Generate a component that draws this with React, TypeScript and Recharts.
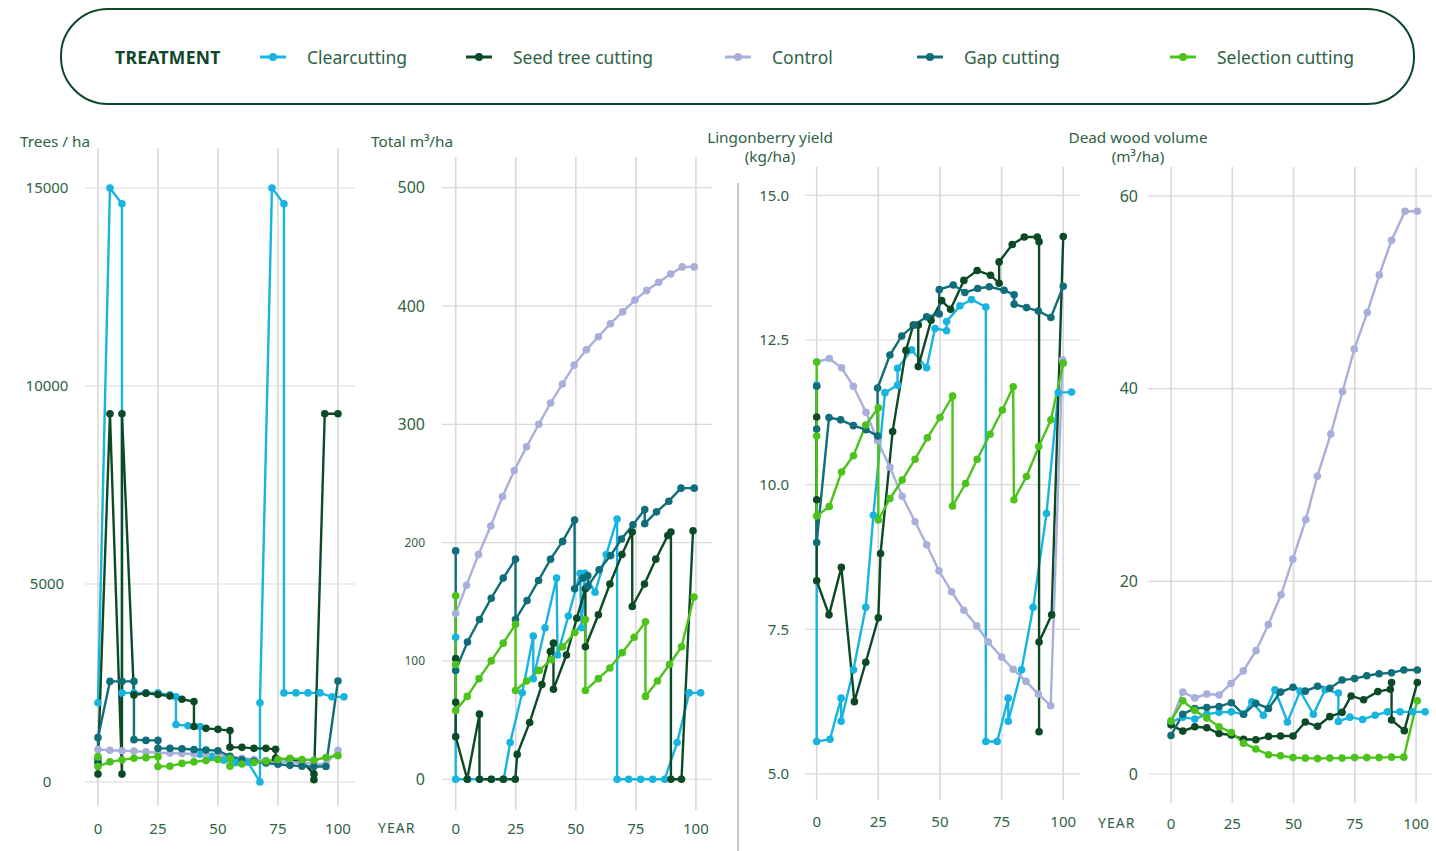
import React from "react";
import { LineChart, Line, XAxis, YAxis, ReferenceLine } from "recharts";

type Pt = [number, number];

// ---------- colours ----------
const C_CLEAR = "#17b4e0";
const C_SEED = "#0b4a25";
const C_CONTROL = "#a8afdb";
const C_GAP = "#0f6e79";
const C_SEL = "#4cc31a";
const TEXT = "#2f6244";
const GRID = "#d9d9d9";

// ---------- legend ----------
const seriesNames = ["Clearcutting", "Seed tree cutting", "Control", "Gap cutting", "Selection cutting"];
const seriesColors = [C_CLEAR, C_SEED, C_CONTROL, C_GAP, C_SEL];

// ---------- shared ticks ----------
const yearTicks = [0, 25, 50, 75, 100];

// ---------- Panel 1: Trees / ha ----------
const treesTicks = [0, 5000, 10000, 15000];
const treesClear: Pt[] = [[0,2000],[5,15000],[10,14600],[10,2250],[15,2250],[20,2250],[25,2250],[30,2200],[32.5,2150],[32.5,1450],[37.5,1420],[42.5,1400],[42.5,700],[47.5,650],[52.5,550],[57.5,500],[62.5,500],[67.5,0],[67.5,2000],[72.5,15000],[77.5,14600],[77.5,2250],[82.5,2250],[87.5,2250],[92.5,2250],[97.5,2150],[102.5,2150]];
const treesSeed: Pt[] = [[0,200],[0,500],[5,9300],[10,200],[10,9300],[15,2200],[20,2240],[25,2210],[30,2170],[35,2090],[40,2030],[40,1400],[45,1355],[50,1330],[55,1300],[55,875],[60,875],[65,850],[70,850],[74,825],[74,600],[80,560],[85,530],[90,200],[90,60],[94.5,9300],[100,9300]];
const treesControl: Pt[] = [[0,820],[5,800],[10,790],[15,780],[20,760],[25,740],[30,730],[35,720],[40,710],[45,700],[50,680],[55,640],[60,600],[65,570],[70,540],[75,520],[80,500],[85,480],[90,460],[95,450],[100,800]];
const treesGap: Pt[] = [[0,600],[0,1120],[5,2540],[10,2540],[15,2540],[15,1070],[20,1050],[25,1050],[25,850],[30,850],[35,840],[40,820],[45,810],[50,790],[55,650],[60,560],[65,520],[70,480],[75,450],[80,420],[85,400],[90,390],[95,390],[100,2550]];
const treesSel: Pt[] = [[0,640],[0,390],[5,510],[10,560],[15,600],[20,615],[25,640],[25,390],[30,400],[35,470],[40,510],[45,540],[50,570],[55,600],[55,400],[60,455],[65,490],[70,530],[75,570],[80,600],[85,570],[90,550],[95,620],[100,665]];

// ---------- Panel 2: Total m3/ha ----------
const volTicks = [0, 100, 200, 300, 400, 500];
const volClear: Pt[] = [[0,120],[0,0],[5,0],[10,0],[15,0],[20,0],[22.7,31],[27.7,73],[32.3,121],[32.3,85],[37.2,128],[42,170],[42.4,105],[46.9,138],[51.8,174],[52.4,128],[53.8,174],[58,158],[62.7,190],[67.2,220],[67.2,0],[72,0],[77,0],[82,0],[87,0],[92.2,31],[97.2,73],[102,73]];
const volSeed: Pt[] = [[0,102],[0,65],[0,36],[4.8,0],[9.9,55],[9.9,0],[14.8,0],[19.8,0],[24.8,0],[25.6,21],[30.8,48],[35.9,80],[39.4,108],[40.7,115],[40.7,76],[46.1,105],[50.4,136],[54,161],[54,112],[59.4,139],[64.2,165],[69.2,190],[73.5,209],[73.5,146],[78.6,165],[83.3,186],[88.3,206],[89.6,209],[89.6,0],[94,0],[98.8,210]];
const volControl: Pt[] = [[0,140],[4.5,164],[9.5,190],[14.6,214],[19.5,239],[24.4,261],[29.5,281],[34.6,300],[39.5,318],[44.4,334],[49.3,350],[54.4,363],[59.4,374],[64.4,385],[69.5,395],[74.6,405],[79.5,413],[84.5,420],[89.5,427],[94.3,433],[99.3,433]];
const volGap: Pt[] = [[0,193],[0,92],[4.9,116],[9.9,135],[14.8,153],[19.8,170],[24.9,186],[24.9,135],[29.7,151],[34.5,168],[39.5,186],[44.5,201],[49.5,219],[49.5,161],[53,170],[55,172],[55,163],[59.7,177],[64.5,189],[69,203],[73.8,215],[78.7,228],[78.7,216],[83.6,226],[88.7,235],[93.8,246],[99.3,246]];
const volSel: Pt[] = [[0,155],[0,97],[0,58],[4.8,70],[9.7,85],[14.8,100],[19.8,115],[24.9,131],[24.9,75],[29.5,83],[34.8,92],[39.8,101],[44.5,112],[49.6,124],[54,135],[54,75],[59.4,85],[64.2,94],[69.3,107],[74.3,120],[79,133],[79,70],[84,83],[89,97],[94,112],[99.2,154]];

// ---------- Panel 3: Lingonberry yield ----------
const lingTicks = [5, 7.5, 10, 12.5, 15];
const lingClear: Pt[] = [[0,11.72],[0,5.56],[5.4,5.6],[9.9,6.31],[9.9,5.91],[14.9,6.8],[19.9,7.88],[23,9.47],[27.7,11.59],[32.8,11.72],[32.8,12.01],[38.5,12.33],[44.6,12.02],[48,12.7],[52.7,12.66],[52.7,12.82],[58.1,13.09],[62.8,13.2],[68.6,13.07],[68.6,5.56],[73.2,5.56],[77.7,6.31],[77.7,5.91],[83.1,6.8],[87.8,7.88],[93.2,9.5],[98,11.59],[103.4,11.6]];
const lingSeed: Pt[] = [[0,11.17],[0,9.74],[0,8.34],[5,7.75],[10,8.57],[15.3,6.25],[19.9,6.93],[25,7.7],[25.9,8.81],[30.8,10.92],[36.2,12.32],[39.2,12.76],[41.2,12.76],[41.2,12.04],[46.4,12.84],[50.7,13.18],[54.3,13.03],[59.7,13.53],[65.1,13.7],[70.5,13.62],[74,13.48],[74,13.85],[79.3,14.15],[84.2,14.28],[89.5,14.28],[90.2,14.2],[90.2,5.73],[90.2,7.28],[95.3,7.75],[100,14.29]];
const lingControl: Pt[] = [[0,12.12],[5.1,12.18],[10.1,12.02],[14.9,11.7],[20,11.25],[24.7,10.76],[29.7,10.3],[34.7,9.8],[39.9,9.36],[44.6,8.96],[49.6,8.51],[54.7,8.15],[59.7,7.83],[64.9,7.56],[69.6,7.28],[75,7.02],[79.7,6.81],[84.9,6.6],[89.9,6.38],[94.9,6.18],[99.7,12.16]];
const lingGap: Pt[] = [[0,11.7],[0,10.96],[0,9.0],[5,11.16],[9.7,11.12],[14.9,11.02],[20,10.95],[24.7,10.84],[24.7,11.67],[29.7,12.24],[34.5,12.57],[39.6,12.76],[44.6,12.9],[49.7,12.95],[49.7,13.37],[55.4,13.45],[60.1,13.32],[65.3,13.39],[70,13.42],[76,13.36],[80.1,13.28],[80.1,13.12],[85.1,13.06],[89.9,13.0],[95,12.89],[100,13.43]];
const lingSel: Pt[] = [[0,12.12],[0,10.84],[0,9.46],[5.1,9.62],[10.1,10.22],[14.9,10.5],[19.9,11.03],[25,11.33],[25,9.39],[29.7,9.76],[34.7,10.08],[39.9,10.44],[44.9,10.81],[50,11.16],[55.1,11.53],[55.1,9.63],[60.4,10.02],[65.1,10.44],[70.3,10.87],[75.3,11.29],[79.7,11.69],[80,9.74],[85.1,10.14],[90.1,10.66],[95,11.12],[100,12.1]];

// ---------- Panel 4: Dead wood volume ----------
const deadTicks = [0, 20, 40, 60];
const deadClear: Pt[] = [[0,5.4],[4.8,5.9],[9.7,5.7],[14.6,6.2],[19.6,6.4],[24.6,6.45],[29.6,6.2],[33,7.5],[37.7,6.1],[42.4,8.75],[47.5,5.4],[52.7,8.6],[58.1,6.2],[62.9,8.75],[68.3,8.4],[68.3,5.45],[73,5.9],[78.2,5.65],[83.3,6.1],[88.3,6.45],[93.5,6.45],[98.6,6.45],[103.7,6.45]];
const deadSeed: Pt[] = [[0,5.1],[4.8,4.45],[9.7,4.9],[14.6,4.8],[19.6,4.2],[24.6,4.05],[29.6,3.6],[34.6,3.55],[39.8,3.9],[44.7,3.95],[49.8,3.95],[54.8,5.4],[59.8,4.95],[64.8,5.95],[69.8,6.4],[73.5,8.1],[78.6,7.7],[84.4,8.55],[89.5,8.8],[90,9.5],[90,5.6],[95.2,4.5],[100.5,9.5]];
const deadControl: Pt[] = [[0,5.5],[4.8,8.5],[9.7,7.9],[14.6,8.3],[19.6,8.2],[24.5,9.4],[29.5,10.7],[34.7,12.8],[39.7,15.5],[44.9,18.6],[49.7,22.3],[55,26.4],[59.7,30.9],[65.2,35.3],[70,39.7],[74.8,44.1],[80.1,47.9],[85,51.8],[90,55.4],[95.5,58.4],[100.5,58.4]];
const deadGap: Pt[] = [[0,4.0],[4.8,6.2],[9.7,6.8],[14.6,6.9],[19.6,7.0],[24.6,7.4],[29.6,6.2],[34.6,7.35],[39.8,6.8],[44.7,8.5],[49.8,9.0],[54.8,8.6],[59.8,9.1],[64.8,8.9],[69.8,9.75],[74.9,9.9],[79.9,10.2],[84.9,10.4],[90,10.5],[95,10.8],[100.5,10.8]];
const deadSel: Pt[] = [[0,5.5],[4.8,7.6],[9.7,6.6],[14.6,5.8],[19.6,4.9],[24.6,4.3],[29.6,3.2],[34.6,2.6],[39.8,2.0],[44.7,1.9],[49.8,1.7],[54.8,1.65],[59.8,1.6],[64.8,1.65],[69.8,1.65],[74.9,1.7],[79.9,1.7],[84.9,1.7],[90,1.75],[95,1.75],[100.5,7.6]];

const toRows = (pts: Pt[]) => pts.map(([x, y]) => ({ x, y }));

const FONT = "'Noto Sans', 'Open Sans', sans-serif";

type PanelProps = {
  left: number;
  top: number;
  plotW: number;
  plotH: number;
  xDomain: [number, number];
  yDomain: [number, number];
  yTicks: number[];
  yLabelX: number;
  yAnchor: "start" | "middle" | "end";
  yFont: (v: number) => number;
  yFormat: (v: number) => string;
  xLabelY: number;
  series: Pt[][];
};

const Y_W = 60;
const X_H = 40;

function Panel(p: PanelProps) {
  const width = Y_W + p.plotW;
  const height = p.plotH + X_H;
  const YTick = (props: any) => {
    const v = props.payload.value;
    return (
      <text x={p.yLabelX} y={props.y} dy="0.35em" textAnchor={p.yAnchor} fill={TEXT} fontSize={p.yFont(v)} fontFamily={FONT}>
        {p.yFormat(v)}
      </text>
    );
  };
  const XTick = (props: any) => (
    <text x={props.x} y={p.xLabelY} dy="0.35em" textAnchor="middle" fill={TEXT} fontSize={15} fontFamily={FONT}>
      {props.payload.value}
    </text>
  );
  return (
    <div style={{ position: "absolute", left: p.left - Y_W, top: p.top }}>
      <LineChart width={width} height={height} margin={{ top: 0, right: 0, bottom: 0, left: 0 }}>
        <XAxis
          dataKey="x"
          type="number"
          domain={p.xDomain}
          ticks={yearTicks}
          allowDataOverflow
          axisLine={false}
          tickLine={false}
          height={X_H}
          tick={XTick}
          interval={0}
        />
        <YAxis
          type="number"
          domain={p.yDomain}
          ticks={p.yTicks}
          allowDataOverflow
          axisLine={false}
          tickLine={false}
          width={Y_W}
          tick={YTick}
          interval={0}
        />
        {p.yTicks.map((t) => (
          <ReferenceLine key={"h" + t} y={t} stroke={GRID} strokeWidth={1.2} ifOverflow="hidden" />
        ))}
        {yearTicks.map((t) => (
          <ReferenceLine key={"v" + t} x={t} stroke={GRID} strokeWidth={1.6} ifOverflow="hidden" />
        ))}
        {p.series.map((s, i) => (
          <Line
            key={i}
            data={toRows(s)}
            dataKey="y"
            type="linear"
            stroke={seriesColors[i]}
            strokeWidth={2.4}
            dot={{ r: 3.8, fill: seriesColors[i], stroke: seriesColors[i], strokeWidth: 0 }}
            activeDot={false}
            isAnimationActive={false}
          />
        ))}
      </LineChart>
    </div>
  );
}

const Title = ({ x, y, children, align = "left" }: any) => (
  <div
    style={{
      position: "absolute",
      left: x,
      top: y,
      transform: align === "center" ? "translateX(-50%)" : undefined,
      fontFamily: FONT,
      fontSize: 15.3,
      color: TEXT,
      whiteSpace: "nowrap",
      lineHeight: "19px",
      textAlign: "center",
    }}
  >
    {children}
  </div>
);

const legendX = [260, 466, 725, 917, 1170];

export default function App() {
  return (
    <div style={{ position: "absolute", left: 0, top: 0, width: 1436, height: 851, background: "#fff", overflow: "hidden", fontFamily: FONT }}>
      {/* Legend */}
      <div
        style={{
          position: "absolute",
          left: 60,
          top: 8,
          width: 1351,
          height: 93,
          border: "2px solid #0d4727",
          borderRadius: 48,
        }}
      />
      <div style={{ position: "absolute", left: 115, top: 46, fontSize: 17.5, fontWeight: 700, color: "#10472a", letterSpacing: 0.3, lineHeight: "22px" }}>
        TREATMENT
      </div>
      {seriesNames.map((n, i) => (
        <div key={n} style={{ position: "absolute", left: legendX[i], top: 46, height: 22, display: "flex", alignItems: "center" }}>
          <svg width={26} height={12} style={{ marginRight: 21 }}>
            <line x1={0} y1={6} x2={26} y2={6} stroke={seriesColors[i]} strokeWidth={3} />
            <circle cx={13} cy={6} r={4} fill={seriesColors[i]} />
          </svg>
          <span style={{ fontSize: 17.5, color: TEXT, lineHeight: "22px" }}>{n}</span>
        </div>
      ))}

      {/* Titles */}
      <Title x={20} y={132}>Trees / ha</Title>
      <Title x={371} y={132}>Total m³/ha</Title>
      <Title x={770} y={128} align="center">Lingonberry yield<br />(kg/ha)</Title>
      <Title x={1138} y={128} align="center">Dead wood volume<br />(m³/ha)</Title>

      <div style={{ position: "absolute", left: 378, top: 818, fontSize: 14, color: TEXT, letterSpacing: 1 }}>YEAR</div>
      <div style={{ position: "absolute", left: 1098, top: 813, fontSize: 14, color: TEXT, letterSpacing: 1 }}>YEAR</div>

      {/* separator line in panel 3 */}
      <div style={{ position: "absolute", left: 737, top: 183, width: 1.5, height: 668, background: "#c8c8c8" }} />

      <Panel
        left={85}
        top={148}
        plotW={270}
        plotH={658}
        xDomain={[-5.4, 107.1]}
        yDomain={[-606, 16010]}
        yTicks={treesTicks}
        yLabelX={22}
        yAnchor="middle"
        yFont={() => 15}
        yFormat={(v) => String(v)}
        xLabelY={681}
        series={[treesClear, treesSeed, treesControl, treesGap, treesSel]}
      />
      <Panel
        left={442}
        top={157}
        plotW={270}
        plotH={653}
        xDomain={[-5.7, 106.7]}
        yDomain={[-26, 525.9]}
        yTicks={volTicks}
        yLabelX={43}
        yAnchor="end"
        yFont={(v) => (v === 100 || v === 200 ? 12 : 16)}
        yFormat={(v) => String(v)}
        xLabelY={672}
        series={[volClear, volSeed, volControl, volGap, volSel]}
      />
      <Panel
        left={805}
        top={167}
        plotW={275}
        plotH={633}
        xDomain={[-4.74, 106.8]}
        yDomain={[4.55, 15.49]}
        yTicks={lingTicks}
        yLabelX={44}
        yAnchor="end"
        yFont={() => 15}
        yFormat={(v) => v.toFixed(1)}
        xLabelY={655}
        series={[lingClear, lingSeed, lingControl, lingGap, lingSel]}
      />
      <Panel
        left={1148}
        top={167}
        plotW={284}
        plotH={636}
        xDomain={[-9.39, 106.5]}
        yDomain={[-3.01, 63.0]}
        yTicks={deadTicks}
        yLabelX={50}
        yAnchor="end"
        yFont={() => 16}
        yFormat={(v) => String(v)}
        xLabelY={657}
        series={[deadClear, deadSeed, deadControl, deadGap, deadSel]}
      />
    </div>
  );
}
